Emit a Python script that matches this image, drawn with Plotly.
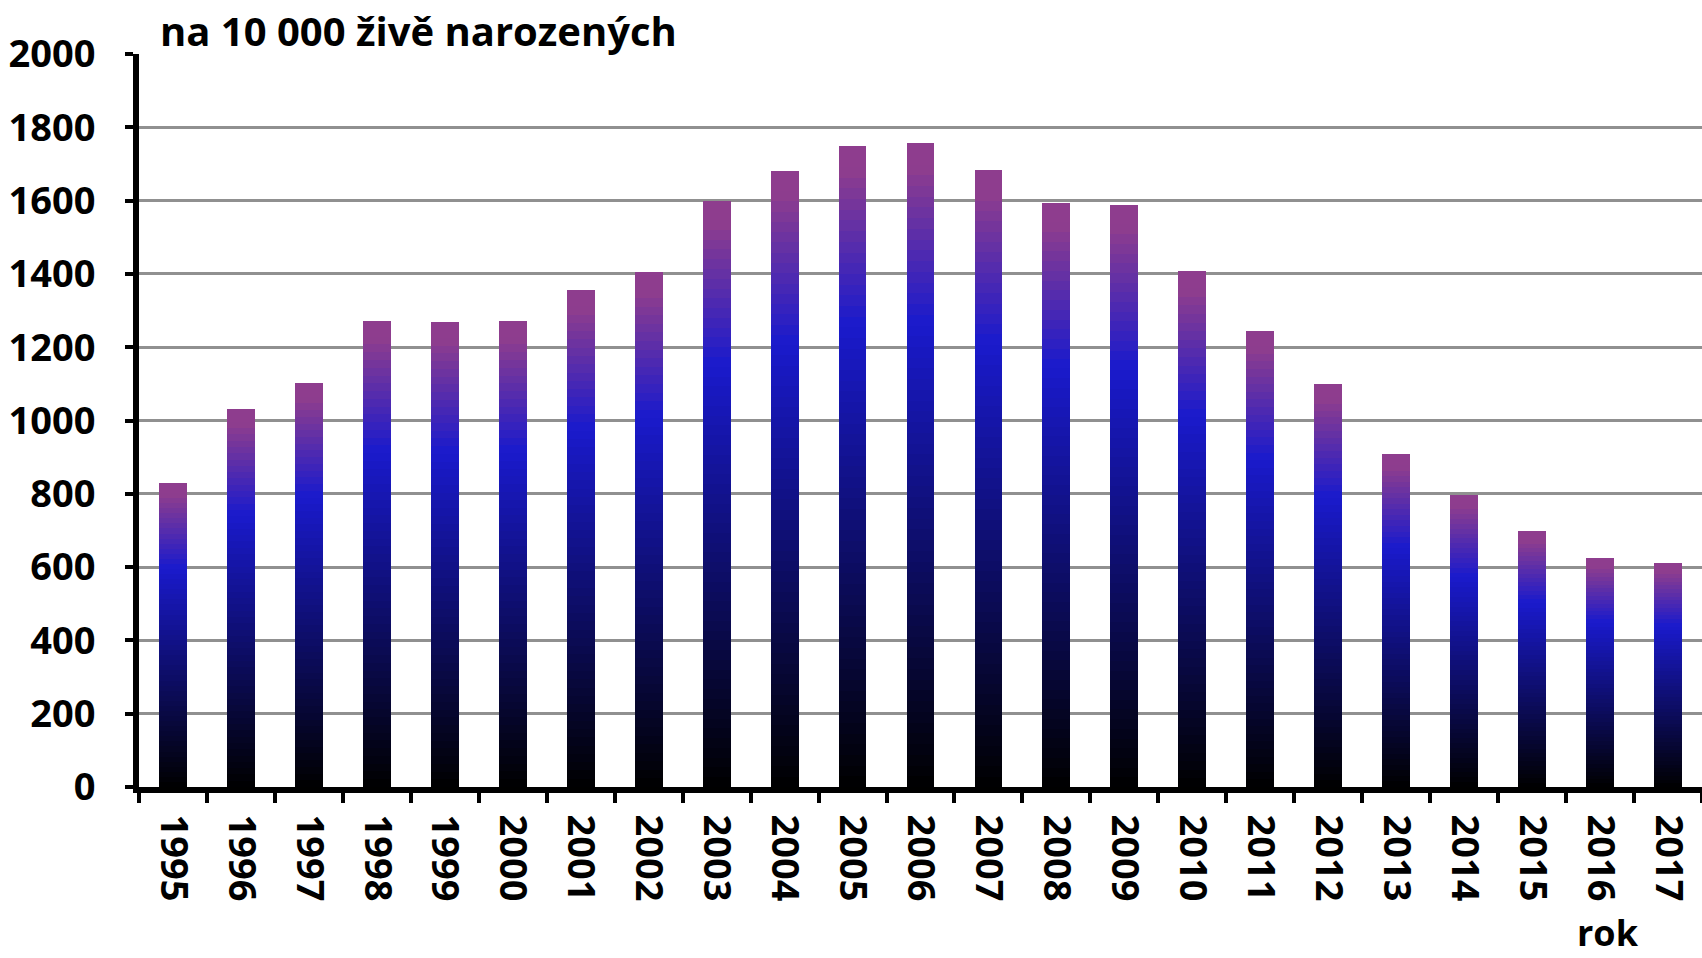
import plotly.graph_objects as go

# ---- data ----
years = [str(y) for y in range(1995, 2018)]
values = [830, 1031, 1102, 1271, 1268, 1271, 1357, 1404, 1600, 1682, 1750, 1757,
          1684, 1594, 1588, 1408, 1244, 1100, 909, 798, 699, 625, 611]
y_tick_vals = list(range(0, 2001, 200))
title_text = "na 10 000 živě narozených"
x_title_text = "rok"

# ---- vertical gradient of each bar (black -> blue -> purple) ----
stops = [(0.0, (0, 0, 0)), (0.72, (26, 26, 204)), (0.96, (142, 61, 142)), (1.0, (142, 61, 142))]


def grad(t):
    for (t0, c0), (t1, c1) in zip(stops[:-1], stops[1:]):
        if t <= t1:
            f = (t - t0) / (t1 - t0) if t1 > t0 else 0
            c = [round(a + (b - a) * f) for a, b in zip(c0, c1)]
            return "rgb(%d,%d,%d)" % tuple(c)
    return "rgb(%d,%d,%d)" % stops[-1][1]


N = 60
FONT = "Open Sans"

fig = go.Figure()
for k in range(N):
    t = (k + 0.5) / N
    fig.add_trace(go.Bar(
        x=years,
        y=[v / N for v in values],
        width=0.41,
        marker=dict(color=grad(t), line=dict(width=0)),
        showlegend=False,
        hoverinfo="skip",
    ))

fig.update_layout(
    barmode="stack",
    width=1702,
    height=958,
    margin=dict(l=139, r=0, t=54, b=171),
    paper_bgcolor="white",
    plot_bgcolor="white",
    font=dict(family=FONT, color="black"),
    xaxis=dict(
        type="category",
        tickson="boundaries",
        ticks="outside",
        ticklen=10,
        tickwidth=4,
        tickcolor="black",
        tickangle=90,
        tickfont=dict(family=FONT, size=38, color="black", weight="bold"),
        ticklabelstandoff=14,
        showline=True,
        linewidth=6,
        linecolor="black",
        showgrid=False,
        zeroline=False,
    ),
    yaxis=dict(
        range=[0, 2000],
        tickvals=y_tick_vals,
        ticks="outside",
        ticklen=8,
        tickwidth=4,
        tickcolor="black",
        tickfont=dict(family=FONT, size=38, color="black", weight="bold"),
        ticklabelstandoff=22,
        showline=True,
        linewidth=6,
        linecolor="black",
        showgrid=True,
        gridcolor="#909090",
        gridwidth=2.5,
        zeroline=False,
    ),
    annotations=[
        dict(text=title_text, xref="paper", yref="paper", x=0.013, y=1.0,
             xanchor="left", yanchor="bottom", showarrow=False, borderpad=0,
             yshift=-5,
             font=dict(family=FONT, size=40, color="black", weight="bold")),
        dict(text=x_title_text, xref="paper", yref="paper", x=0.94, y=-0.2333,
             xanchor="center", yanchor="bottom", showarrow=False, borderpad=0,
             font=dict(family=FONT, size=36, color="black", weight="bold")),
    ],
)

fig.write_html("out.html", config={"displayModeBar": False},
               post_script="document.body.style.margin='0';document.body.style.overflow='hidden';")
